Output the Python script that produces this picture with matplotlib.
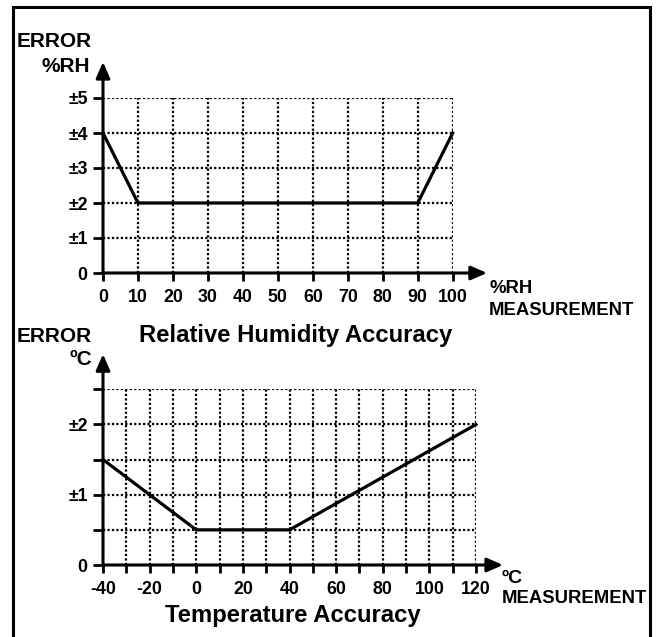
#!/usr/bin/env python3
# encoding: utf-8
import matplotlib
matplotlib.use("Agg")
from matplotlib import pyplot as plt
from matplotlib.patches import Rectangle

plt.rcParams['font.family'] = ['Liberation Sans', 'DejaVu Sans']
plt.rcParams['font.weight'] = 'bold'

W, H = 657, 637

# relative humidity accuracy
rh_x = [0, 10, 90, 100]
rh_err = [4, 2, 2, 4]
rh_xticks = [0, 10, 20, 30, 40, 50, 60, 70, 80, 90, 100]
rh_yticks = [0, 1, 2, 3, 4, 5]
rh_ylabels = ['0', '±1', '±2', '±3', '±4', '±5']

# temperature accuracy
t_x = [-40, 0, 40, 120]
t_err = [1.5, 0.5, 0.5, 2.0]
t_xticks = [-40, -30, -20, -10, 0, 10, 20, 30, 40, 50, 60, 70, 80, 90, 100, 110, 120]
t_xlabels = ['-40', '', '-20', '', '0', '', '20', '', '40', '', '60', '', '80', '', '100', '', '120']
t_yticks = [0, 0.5, 1, 1.5, 2, 2.5]
t_ylabels = ['0', '', '±1', '', '±2', '']


def box(left, top, right, bottom):
    # pixel box -> figure fraction
    return [left / W, 1 - bottom / H, (right - left) / W, (bottom - top) / H]


def ftext(x, y, s, size=13.3, **kw):
    fig.text(x / W, 1 - y / H, s, fontsize=size, fontweight='bold', va='baseline', **kw)


def draw_chart(ax, x, y, xticks, xlabels, yticks, ylabels, xlim, ylim, xtip, ytip):
    ax.set_xlim(*xlim)
    ax.set_ylim(*ylim)
    for s in ax.spines.values():
        s.set_visible(False)
    ax.set_xticks(xticks, xlabels)
    ax.set_yticks(yticks, ylabels)
    ax.tick_params(axis='x', direction='out', length=6, width=2, pad=5.5, labelsize=12.8)
    ax.tick_params(axis='y', direction='out', length=7, width=2, pad=4, labelsize=12.8)
    ax.grid(True, color='black', linestyle=(0, (1, 1)), linewidth=1.6)
    ax.set_axisbelow(True)
    arrow = dict(arrowstyle='-|>,head_length=0.8,head_width=0.35', lw=2.2, color='black',
                 mutation_scale=12, shrinkA=0, shrinkB=0)
    ax.annotate('', xy=(xtip, ylim[0]), xytext=(xlim[0], ylim[0]), arrowprops=arrow,
                annotation_clip=False)
    ax.annotate('', xy=(xlim[0], ytip), xytext=(xlim[0], ylim[0]), arrowprops=arrow,
                annotation_clip=False)
    ax.plot(x, y, color='black', lw=2.3, clip_on=False, zorder=3)


fig = plt.figure(figsize=(W / 100, H / 100), dpi=100)

ax1 = fig.add_axes(box(103, 98, 452.7, 273))
draw_chart(ax1, rh_x, rh_err, rh_xticks, [str(v) for v in rh_xticks], rh_yticks, rh_ylabels,
           (0, 100), (0, 5), 109.8, 6.03)

ax2 = fig.add_axes(box(103, 389.3, 476, 565))
draw_chart(ax2, t_x, t_err, t_xticks, t_xlabels, t_yticks, t_ylabels,
           (-40, 120), (0, 2.5), 131.6, 3.0)

ftext(92, 47, 'ERROR', size=15, ha='right')
ftext(90, 72, '%RH', size=15, ha='right')
ftext(489, 293, '%RH', ha='left')
ftext(489, 315, 'MEASUREMENT', ha='left')
ftext(92, 342, 'ERROR', size=15, ha='right')
ftext(296, 342, 'Relative Humidity Accuracy', size=17.2, ha='center')
ftext(92, 365, 'ºC', size=15, ha='right')
ftext(502, 583, 'ºC', size=14, ha='left')
ftext(502, 603, 'MEASUREMENT', ha='left')
ftext(293, 622, 'Temperature Accuracy', size=17.2, ha='center')

fig.add_artist(Rectangle((13 / W, -0.05), (650 - 13) / W, 1.05 - 7 / H, transform=fig.transFigure,
                         fill=False, edgecolor='black', lw=2.2))

plt.savefig('out.png', dpi=100)
